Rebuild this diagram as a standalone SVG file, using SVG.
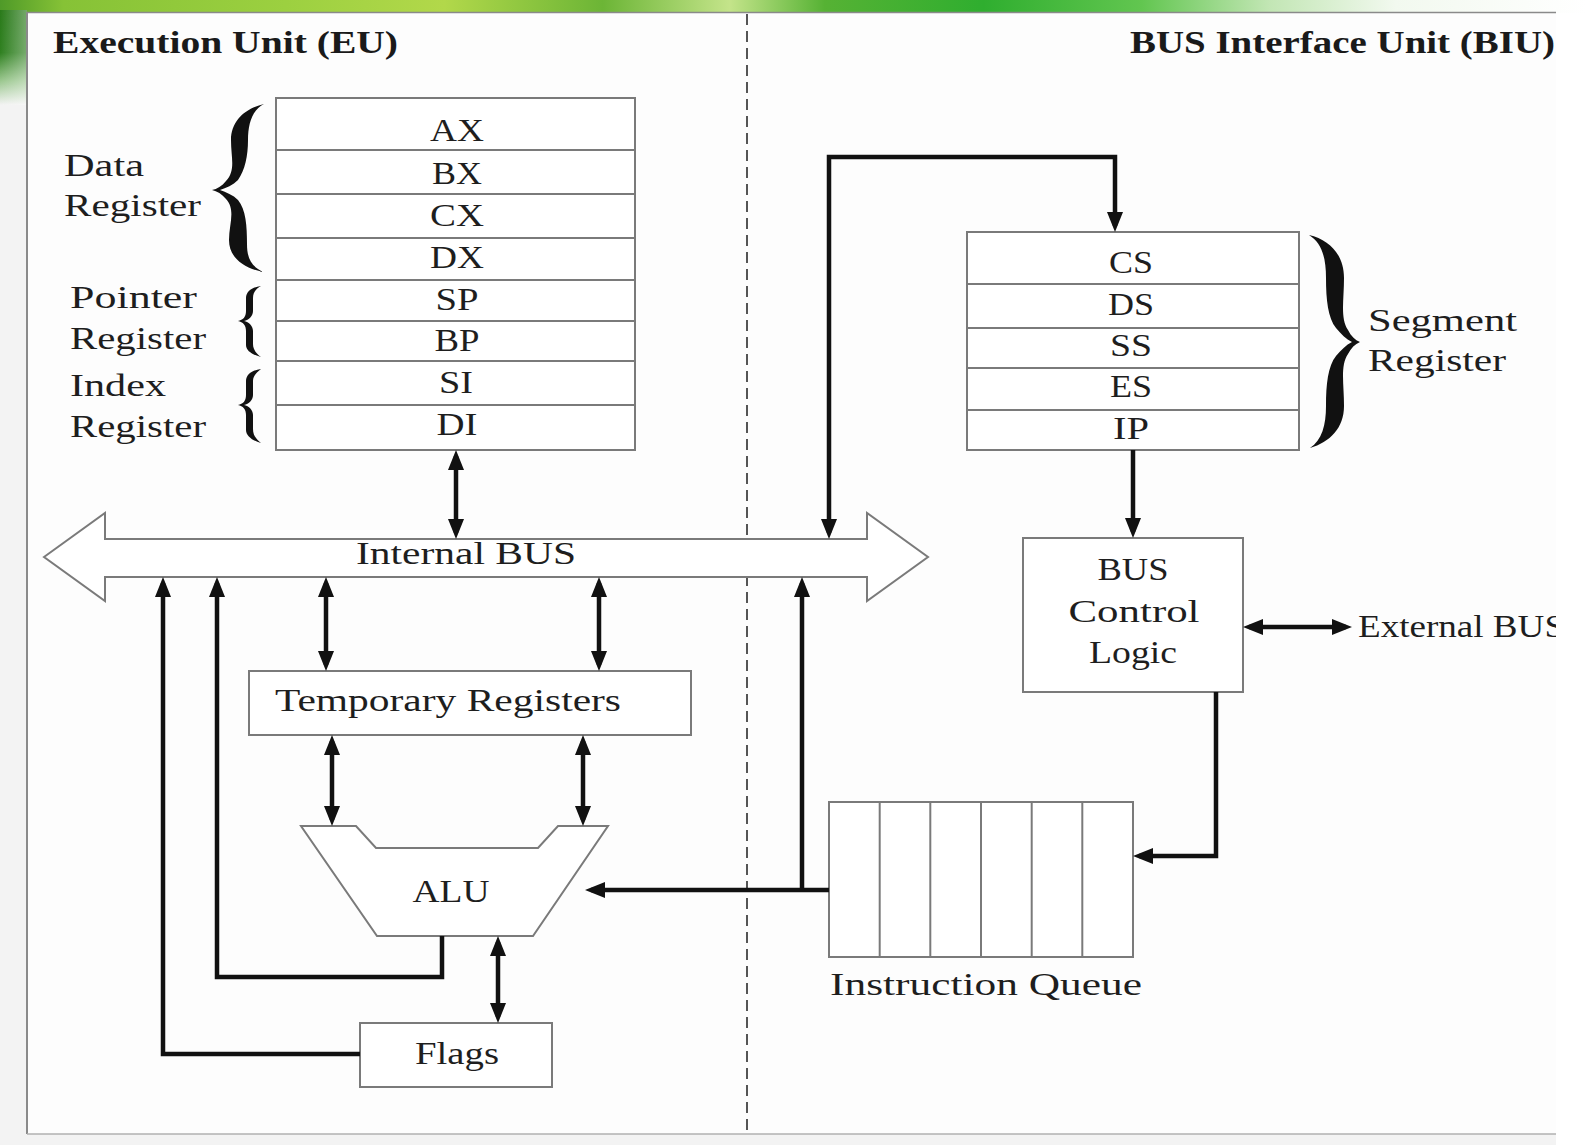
<svg xmlns="http://www.w3.org/2000/svg" width="1586" height="1145" viewBox="0 0 1586 1145">
<defs>
<linearGradient id="topband" x1="0" y1="0" x2="1" y2="0">
<stop offset="0" stop-color="#4f9a28"/>
<stop offset="0.04" stop-color="#86c236"/>
<stop offset="0.18" stop-color="#9cd040"/>
<stop offset="0.28" stop-color="#b2d84a"/>
<stop offset="0.38" stop-color="#6cb536"/>
<stop offset="0.46" stop-color="#c4e48a"/>
<stop offset="0.52" stop-color="#56b234"/>
<stop offset="0.62" stop-color="#2fae2f"/>
<stop offset="0.72" stop-color="#62c650"/>
<stop offset="0.8" stop-color="#c2e6b4"/>
<stop offset="0.88" stop-color="#f2f9ef"/>
<stop offset="1" stop-color="#ffffff"/>
</linearGradient>
<linearGradient id="leftband" x1="0" y1="0" x2="0" y2="1">
<stop offset="0" stop-color="#2a7a1a"/>
<stop offset="0.45" stop-color="#2f8020"/>
<stop offset="0.75" stop-color="#9cc890"/>
<stop offset="1" stop-color="#f3f3f3"/>
</linearGradient>
<linearGradient id="leftfade" x1="0" y1="0" x2="1" y2="0">
<stop offset="0" stop-color="#ffffff" stop-opacity="0"/>
<stop offset="1" stop-color="#ffffff" stop-opacity="0.35"/>
</linearGradient>
<marker id="ah" markerUnits="userSpaceOnUse" viewBox="0 0 20 16" markerWidth="20" markerHeight="16" refX="14" refY="8" orient="auto-start-reverse">
<path d="M0,0 L20,8 L0,16 z" fill="#111"/>
</marker>
<clipPath id="panelclip"><rect x="0" y="0" width="1556" height="1145"/></clipPath>
</defs>
<style>
.box{fill:#ffffff;stroke:#7a7a7a;stroke-width:2}
.sep{stroke:#7a7a7a;stroke-width:2}
.t{font-family:"Liberation Serif","DejaVu Serif",serif;font-size:32px;fill:#1e1e1e}
.h{font-family:"Liberation Serif","DejaVu Serif",serif;font-size:31px;font-weight:bold;fill:#1a1a1a}
.c{text-anchor:middle}
.w{fill:none;stroke:#111;stroke-width:4.5}
.a1{marker-end:url(#ah)}
.a2{marker-start:url(#ah);marker-end:url(#ah)}
.brace{fill:#111}
</style>

<!-- background -->
<rect x="0" y="0" width="1586" height="1145" fill="#f3f3f3"/>
<rect x="1556" y="0" width="30" height="1145" fill="#ffffff"/>
<rect x="0" y="0" width="1586" height="13" fill="url(#topband)"/>
<rect x="0" y="10" width="27" height="95" fill="url(#leftband)"/>
<rect x="0" y="10" width="27" height="95" fill="url(#leftfade)"/>
<rect x="26" y="12" width="1530" height="1122" fill="#fdfdfd"/>
<line x1="27" y1="12" x2="27" y2="1134" stroke="#8a8a8a" stroke-width="2"/>
<line x1="27" y1="12.5" x2="1556" y2="12.5" stroke="#8a8a8a" stroke-width="1.5"/>
<line x1="27" y1="1134" x2="1556" y2="1134" stroke="#b0b0b0" stroke-width="1.5"/>

<!-- divider -->
<line x1="747" y1="14" x2="747" y2="1133" stroke="#555" stroke-width="2" stroke-dasharray="11,6"/>

<g clip-path="url(#panelclip)">
<!-- headers -->
<text class="h" x="53" y="53" textLength="345" lengthAdjust="spacingAndGlyphs">Execution Unit (EU)</text>
<text class="h" x="1130" y="53" textLength="425" lengthAdjust="spacingAndGlyphs">BUS Interface Unit (BIU)</text>

<!-- EU register stack -->
<g id="eu-registers">
<rect class="box" x="276" y="98" width="359" height="352"/>
<line class="sep" x1="276" y1="150" x2="635" y2="150"/>
<line class="sep" x1="276" y1="194" x2="635" y2="194"/>
<line class="sep" x1="276" y1="238" x2="635" y2="238"/>
<line class="sep" x1="276" y1="280" x2="635" y2="280"/>
<line class="sep" x1="276" y1="321" x2="635" y2="321"/>
<line class="sep" x1="276" y1="361" x2="635" y2="361"/>
<line class="sep" x1="276" y1="405" x2="635" y2="405"/>
<text class="t c" x="457" y="141" textLength="54" lengthAdjust="spacingAndGlyphs">AX</text>
<text class="t c" x="457" y="184" textLength="50" lengthAdjust="spacingAndGlyphs">BX</text>
<text class="t c" x="457" y="226" textLength="54" lengthAdjust="spacingAndGlyphs">CX</text>
<text class="t c" x="457" y="268" textLength="54" lengthAdjust="spacingAndGlyphs">DX</text>
<text class="t c" x="457" y="310" textLength="43" lengthAdjust="spacingAndGlyphs">SP</text>
<text class="t c" x="457" y="351" textLength="45" lengthAdjust="spacingAndGlyphs">BP</text>
<text class="t c" x="456" y="393" textLength="34" lengthAdjust="spacingAndGlyphs">SI</text>
<text class="t c" x="457" y="435" textLength="41" lengthAdjust="spacingAndGlyphs">DI</text>
</g>

<g id="data-register-label">
<path class="brace" d="M264,104 C246,108 231,120 231,140 C231,158 236,170 226,181 C222,186 217,189 212,190 C217,191 222,194 226,199 C236,210 229,224 229,240 C229,258 244,268 263,272 C251,266 247,258 247,244 C247,226 246,210 238,200 C233,195 226,192 220,190 C226,188 233,185 238,180 C245,170 248,156 248,140 C248,124 252,110 264,104 Z"/>
<text class="t" x="64" y="176" textLength="80" lengthAdjust="spacingAndGlyphs">Data</text>
<text class="t" x="64" y="216" textLength="137" lengthAdjust="spacingAndGlyphs">Register</text>
</g>

<g id="pointer-register-label">
<path class="brace" d="M261,286 C253,287 246,291 246,298 L246,311 C246,317 243,320 238,321 C243,322 246,325 246,331 L246,345 C246,351 253,355 261,357 C257,354 253,350 253,344 L253,331 C253,326 249,322 244,321 C249,320 253,316 253,311 L253,298 C253,292 257,288 261,286 Z"/>
<text class="t" x="70" y="308" textLength="127" lengthAdjust="spacingAndGlyphs">Pointer</text>
<text class="t" x="70" y="349" textLength="136" lengthAdjust="spacingAndGlyphs">Register</text>
</g>

<g id="index-register-label">
<path class="brace" d="M261,369 C253,370 246,374 246,381 L246,395 C246,401 243,404 238,405 C243,406 246,409 246,415 L246,430 C246,436 253,441 261,443 C257,440 253,436 253,429 L253,415 C253,410 249,406 244,405 C249,404 253,400 253,395 L253,381 C253,376 257,372 261,369 Z"/>
<text class="t" x="70" y="396" textLength="96" lengthAdjust="spacingAndGlyphs">Index</text>
<text class="t" x="70" y="437" textLength="136" lengthAdjust="spacingAndGlyphs">Register</text>
</g>

<!-- Segment registers -->
<g id="segment-registers">
<rect class="box" x="967" y="232" width="332" height="218"/>
<line class="sep" x1="967" y1="284" x2="1299" y2="284"/>
<line class="sep" x1="967" y1="328" x2="1299" y2="328"/>
<line class="sep" x1="967" y1="368" x2="1299" y2="368"/>
<line class="sep" x1="967" y1="410" x2="1299" y2="410"/>
<text class="t c" x="1131" y="273" textLength="44" lengthAdjust="spacingAndGlyphs">CS</text>
<text class="t c" x="1131" y="315" textLength="46" lengthAdjust="spacingAndGlyphs">DS</text>
<text class="t c" x="1131" y="356" textLength="42" lengthAdjust="spacingAndGlyphs">SS</text>
<text class="t c" x="1131" y="397" textLength="42" lengthAdjust="spacingAndGlyphs">ES</text>
<text class="t c" x="1131" y="439" textLength="36" lengthAdjust="spacingAndGlyphs">IP</text>
</g>

<g id="segment-register-label">
<path class="brace" d="M1309,235 C1330,240 1344,255 1344,278 C1344,300 1340,318 1348,330 C1351,336 1355,340 1360,342 C1355,344 1351,348 1348,354 C1340,366 1344,384 1344,406 C1344,428 1330,442 1310,448 C1322,440 1326,425 1326,406 C1326,384 1328,366 1336,356 C1341,350 1346,345 1352,342 C1346,339 1341,334 1336,328 C1328,318 1326,300 1326,278 C1326,258 1322,243 1309,235 Z"/>
<text class="t" x="1368" y="331" textLength="149" lengthAdjust="spacingAndGlyphs">Segment</text>
<text class="t" x="1368" y="371" textLength="138" lengthAdjust="spacingAndGlyphs">Register</text>
</g>

<!-- Internal bus -->
<g id="internal-bus">
<polygon points="44,557 105,513 105,539 867,539 867,513 928,557 867,601 867,577 105,577 105,601" fill="#ffffff" stroke="#7a7a7a" stroke-width="2"/>
<text class="t c" x="466" y="564" textLength="220" lengthAdjust="spacingAndGlyphs">Internal BUS</text>
</g>

<!-- Temporary registers -->
<g id="temporary-registers">
<rect class="box" x="249" y="671" width="442" height="64"/>
<text class="t" x="275" y="711" textLength="346" lengthAdjust="spacingAndGlyphs">Temporary Registers</text>
</g>

<!-- ALU -->
<g id="alu">
<polygon points="301,826 356,826 376,848 538,848 558,826 608,826 533,936 377,936" fill="#ffffff" stroke="#7a7a7a" stroke-width="2"/>
<text class="t c" x="451" y="902" textLength="77" lengthAdjust="spacingAndGlyphs">ALU</text>
</g>

<!-- Flags -->
<g id="flags">
<rect class="box" x="360" y="1023" width="192" height="64"/>
<text class="t c" x="457" y="1064" textLength="84" lengthAdjust="spacingAndGlyphs">Flags</text>
</g>

<!-- BUS control logic -->
<g id="bus-control-logic">
<rect class="box" x="1023" y="538" width="220" height="154"/>
<text class="t c" x="1133" y="580" textLength="71" lengthAdjust="spacingAndGlyphs">BUS</text>
<text class="t c" x="1134" y="622" textLength="131" lengthAdjust="spacingAndGlyphs">Control</text>
<text class="t c" x="1133" y="663" textLength="88" lengthAdjust="spacingAndGlyphs">Logic</text>
</g>

<g id="external-bus">
<text class="t" x="1358" y="637" textLength="207" lengthAdjust="spacingAndGlyphs">External BUS</text>
</g>

<!-- Instruction queue -->
<g id="instruction-queue">
<rect class="box" x="829" y="802" width="304" height="155"/>
<line class="sep" x1="879.7" y1="802" x2="879.7" y2="957"/>
<line class="sep" x1="930.3" y1="802" x2="930.3" y2="957"/>
<line class="sep" x1="981" y1="802" x2="981" y2="957"/>
<line class="sep" x1="1031.7" y1="802" x2="1031.7" y2="957"/>
<line class="sep" x1="1082.3" y1="802" x2="1082.3" y2="957"/>
<text class="t" x="830" y="995" textLength="312" lengthAdjust="spacingAndGlyphs">Instruction Queue</text>
</g>

<!-- connectors -->
<g id="connectors">
<path class="w a2" d="M456,456 L456,533"/>
<path class="w a2" d="M829,533 L829,157 L1115,157 L1115,226"/>
<path class="w a1" d="M1133,450 L1133,532"/>
<path class="w a2" d="M1249,627 L1346,627"/>
<path class="w a1" d="M1216,692 L1216,856 L1139,856"/>
<path class="w a1" d="M829,890 L591,890"/>
<path class="w a1" d="M802,890 L802,583"/>
<path class="w a2" d="M326,583 L326,665"/>
<path class="w a2" d="M599,583 L599,665"/>
<path class="w a2" d="M332,741 L332,820"/>
<path class="w a2" d="M583,741 L583,820"/>
<path class="w a1" d="M442,936 L442,977 L217,977 L217,583"/>
<path class="w a2" d="M498,942 L498,1017"/>
<path class="w a1" d="M360,1054 L163,1054 L163,583"/>
</g>
</g>
</svg>
